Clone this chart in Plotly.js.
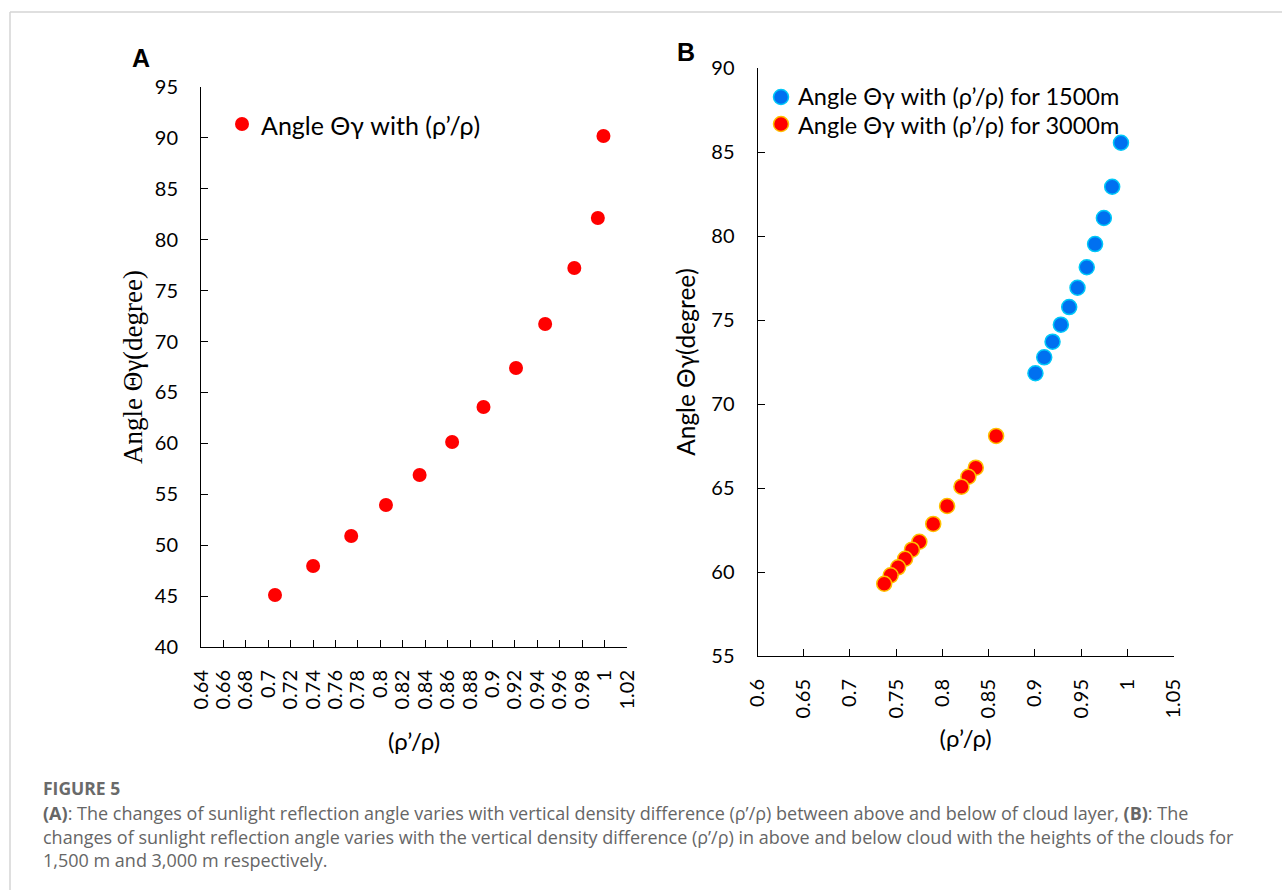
<!DOCTYPE html>
<html>
<head>
<meta charset="utf-8">
<script src="https://cdn.plot.ly/plotly-3.0.1.min.js"></script>
<style>
html,body{margin:0;padding:0;background:#fff;}
#chart{width:1282px;height:890px;}
</style>
</head>
<body>
<div id="chart"></div>
<script>
// Panel A data
const ratioA = [0.706, 0.740, 0.774, 0.805, 0.835, 0.864, 0.892, 0.921, 0.947, 0.973, 0.994, 0.999];
const angleA = [45.1, 47.95, 50.9, 53.94, 56.9, 60.13, 63.57, 67.4, 71.72, 77.22, 82.13, 90.19];

// Panel B data: 1500 m
const ratioB1500 = [0.993, 0.9835, 0.9745, 0.965, 0.956, 0.946, 0.937, 0.928, 0.919, 0.910, 0.9005];
const angleB1500 = [85.55, 82.93, 81.07, 79.52, 78.14, 76.92, 75.77, 74.72, 73.71, 72.78, 71.83];

// Panel B data: 3000 m
const ratioB3000 = [0.858, 0.836, 0.828, 0.8205, 0.805, 0.790, 0.775, 0.767, 0.7596, 0.752, 0.744, 0.737];
const angleB3000 = [68.1, 66.21, 65.67, 65.08, 63.93, 62.86, 61.8, 61.33, 60.79, 60.28, 59.8, 59.3];

const nameA = "Angle Θγ with (ρ’/ρ)";
const nameB1500 = "Angle Θγ with (ρ’/ρ) for 1500m";
const nameB3000 = "Angle Θγ with (ρ’/ρ) for 3000m";

const W = 1282, H = 890;
const px = v => v / W;
const py = v => 1 - v / H;

const traces = [
  {x: ratioA, y: angleA, mode: 'markers', type: 'scatter', name: nameA, xaxis: 'x', yaxis: 'y',
   marker: {color: '#ff0000', size: 14, line: {width: 0}}, showlegend: false},
  {x: ratioB1500, y: angleB1500, mode: 'markers', type: 'scatter', name: nameB1500, xaxis: 'x2', yaxis: 'y2',
   marker: {color: '#0070f0', size: 15, line: {width: 1.5, color: '#00c8f8'}}, showlegend: false},
  {x: ratioB3000, y: angleB3000, mode: 'markers', type: 'scatter', name: nameB3000, xaxis: 'x2', yaxis: 'y2',
   marker: {color: '#ff0000', size: 15, line: {width: 1.5, color: '#ffc000'}}, showlegend: false}
];

const tickFont = {family: 'Lato, "Open Sans", sans-serif', size: 20, color: '#000'};

const axisCommon = {
  showgrid: false, zeroline: false, showline: true, linecolor: '#000', linewidth: 1,
  ticks: 'inside', ticklen: 7, tickcolor: '#000', tickwidth: 1, tickfont: tickFont
};

const capFont = {family: '"Open Sans", sans-serif', size: 18, color: '#666'};

const layout = {
  width: W, height: H,
  margin: {l: 0, r: 0, t: 0, b: 0},
  paper_bgcolor: '#fff', plot_bgcolor: 'rgba(0,0,0,0)',
  showlegend: false,
  xaxis: Object.assign({}, axisCommon, {
    domain: [px(201), px(627)], range: [0.64, 1.02], dtick: 0.02, tick0: 0.64,
    tickangle: -90, anchor: 'y', ticklabelstandoff: 14,
    title: {text: '(ρ’/ρ)', font: {family: 'Lato, sans-serif', size: 24, color: '#000'}, standoff: 24}
  }),
  yaxis: Object.assign({}, axisCommon, {
    domain: [py(647), py(87)], range: [40, 95], dtick: 5, tick0: 40, anchor: 'x',
    ticklabelstandoff: 18,
    title: {text: 'Angle Θγ(degree)', font: {family: '"Liberation Serif", "DejaVu Serif", serif', size: 27, color: '#000'}, standoff: 4}
  }),
  xaxis2: Object.assign({}, axisCommon, {
    domain: [px(757.5), px(1173.7)], range: [0.6, 1.05], dtick: 0.05, tick0: 0.6,
    tickangle: -90, anchor: 'y2', ticklabelstandoff: 14,
    title: {text: '(ρ’/ρ)', font: {family: 'Lato, sans-serif', size: 24, color: '#000'}, standoff: 12}
  }),
  yaxis2: Object.assign({}, axisCommon, {
    domain: [py(656), py(68)], range: [55, 90], dtick: 5, tick0: 55, anchor: 'x2',
    ticklabelstandoff: 18,
    title: {text: 'Angle Θγ(degree)', font: {family: 'Lato, sans-serif', size: 24.5, color: '#000'}, standoff: 8}
  }),
  shapes: [
    {type: 'line', xref: 'paper', yref: 'paper', x0: px(10), x1: 1, y0: py(12), y1: py(12), line: {color: '#d4d4d4', width: 1.5}},
    {type: 'line', xref: 'paper', yref: 'paper', x0: px(10), x1: px(10), y0: py(12), y1: 0, line: {color: '#d4d4d4', width: 1.5}},
    {type: 'circle', xref: 'paper', yref: 'paper', x0: px(235), x1: px(249), y0: py(131), y1: py(117), fillcolor: '#ff0000', line: {width: 0}},
    {type: 'circle', xref: 'paper', yref: 'paper', x0: px(773.5), x1: px(788.5), y0: py(104.5), y1: py(89.5), fillcolor: '#0070f0', line: {color: '#00c8f8', width: 1.5}},
    {type: 'circle', xref: 'paper', yref: 'paper', x0: px(773.5), x1: px(788.5), y0: py(131.5), y1: py(116.5), fillcolor: '#ff0000', line: {color: '#ffc000', width: 1.5}}
  ],
  annotations: [
    {text: '<b>A</b>', xref: 'paper', yref: 'paper', x: px(141), y: py(58), xanchor: 'center', yanchor: 'middle', showarrow: false,
     font: {family: '"Liberation Sans", Arial, sans-serif', size: 25, color: '#000'}},
    {text: '<b>B</b>', xref: 'paper', yref: 'paper', x: px(686), y: py(52), xanchor: 'center', yanchor: 'middle', showarrow: false,
     font: {family: '"Liberation Sans", Arial, sans-serif', size: 25, color: '#000'}},
    {text: nameA, xref: 'paper', yref: 'paper', x: px(259), y: py(125), xanchor: 'left', yanchor: 'middle', showarrow: false,
     font: {family: 'Lato, sans-serif', size: 25, color: '#000'}},
    {text: nameB1500, xref: 'paper', yref: 'paper', x: px(796), y: py(96), xanchor: 'left', yanchor: 'middle', showarrow: false,
     font: {family: 'Lato, sans-serif', size: 23.5, color: '#000'}},
    {text: nameB3000, xref: 'paper', yref: 'paper', x: px(796), y: py(125), xanchor: 'left', yanchor: 'middle', showarrow: false,
     font: {family: 'Lato, sans-serif', size: 23.5, color: '#000'}},
    {text: '<b>FIGURE 5</b>', xref: 'paper', yref: 'paper', x: px(41), y: py(788), xanchor: 'left', yanchor: 'middle', showarrow: false,
     font: {family: '"Open Sans", sans-serif', size: 17.5, color: '#6a6a6a'}},
    {text: '<b>(A)</b>: The changes of sunlight reflection angle varies with vertical density difference (ρ’/ρ) between above and below of cloud layer, <b>(B)</b>: The',
     xref: 'paper', yref: 'paper', x: px(41), y: py(813), xanchor: 'left', yanchor: 'middle', showarrow: false, font: capFont},
    {text: 'changes of sunlight reflection angle varies with the vertical density difference (ρ’/ρ) in above and below cloud with the heights of the clouds for',
     xref: 'paper', yref: 'paper', x: px(41), y: py(837), xanchor: 'left', yanchor: 'middle', showarrow: false, font: capFont},
    {text: '1,500 m and 3,000 m respectively.',
     xref: 'paper', yref: 'paper', x: px(41), y: py(860), xanchor: 'left', yanchor: 'middle', showarrow: false, font: capFont}
  ]
};

Plotly.newPlot('chart', traces, layout, {displayModeBar: false, staticPlot: true});
</script>
</body>
</html>
